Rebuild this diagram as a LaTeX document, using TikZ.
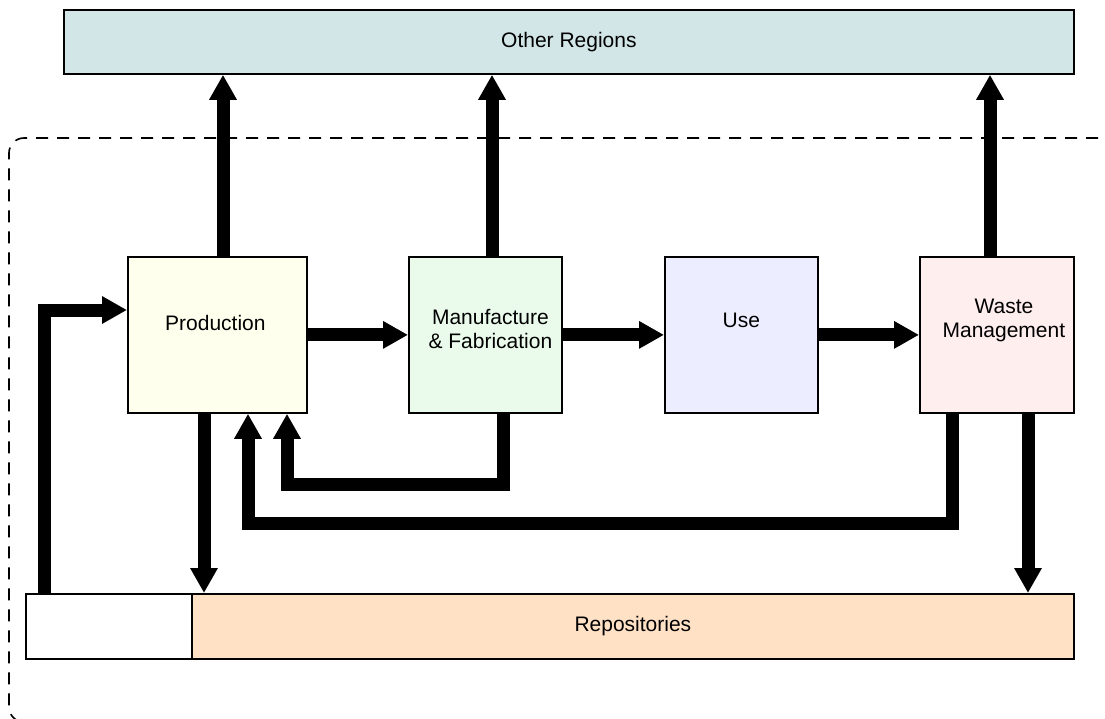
\documentclass[tikz,border=0pt]{standalone}
\usepackage{fontspec}
\setmainfont{Liberation Sans}
\usetikzlibrary{arrows.meta,calc}
\definecolor{cOther}{HTML}{D2E6E8}
\definecolor{cProd}{HTML}{FFFFEE}
\definecolor{cManu}{HTML}{EAFBEC}
\definecolor{cUse}{HTML}{ECEEFF}
\definecolor{cWaste}{HTML}{FFEEEE}
\definecolor{cRepo}{HTML}{FFE1C6}
\begin{document}
\begin{tikzpicture}[x=1pt,y=-1pt,
  font=\fontsize{21}{24}\selectfont,
  box/.style={draw,line width=1.8pt,inner sep=0pt,anchor=north west},
  stage/.style={box,minimum height=156pt},
  flow/.style={line width=13pt,line join=miter,-{Triangle[width=26pt,length=25pt]}},
  frame/.style={line width=1.6pt,dash pattern=on 12pt off 9pt,rounded corners=15pt}
]
\useasboundingbox (0,0) rectangle (1105,719);
% dashed system boundary
\draw[frame] (1098,138) -- (9,138) -- (9,722) -- (80,722);
% boxes
\node[box,fill=cOther,minimum width=1010pt,minimum height=64pt] (other) at (63,9) {Other Regions};
\node[stage,fill=cProd,minimum width=179pt,label={[xshift=-2pt,yshift=12pt]center:Production}] (prod) at (127,256) {};
\node[stage,fill=cManu,minimum width=153pt,label={[align=center,xshift=5pt,yshift=6pt]center:{Manufacture\\\& Fabrication}}] (manu) at (408,256) {};
\node[stage,fill=cUse,minimum width=153pt,label={[yshift=15pt]center:Use}] (use) at (664,256) {};
\node[stage,fill=cWaste,minimum width=154pt,label={[align=center,xshift=7pt,yshift=14pt]center:{Waste\\Management}}] (waste) at (919,256) {};
\node[box,fill=white,minimum width=166pt,minimum height=65pt] (repoL) at (25,593) {};
\node[box,fill=cRepo,minimum width=882pt,minimum height=65pt] (repo) at (191,593) {Repositories};
% coordinates
\coordinate (pu) at ($(prod.north west)+(96,0)$);
\coordinate (mu) at ($(manu.north west)+(84,0)$);
\coordinate (wu) at ($(waste.north west)+(71,0)$);
\coordinate (f0) at ($(repoL.north west)+(19,0)$);
\coordinate (f1) at ($(prod.north west)+(0,54)$);
\coordinate (pd) at ($(prod.south west)+(77,0)$);
\coordinate (m0) at ($(manu.south west)+(95,0)$);
\coordinate (r2) at ($(prod.south west)+(160,0)$);
\coordinate (r1) at ($(r2)+(0,71)$);
\coordinate (w0) at ($(waste.south west)+(33,0)$);
\coordinate (r4) at ($(prod.south west)+(121,0)$);
\coordinate (r3) at ($(r4)+(0,110)$);
\coordinate (w1) at ($(waste.south west)+(109,0)$);
% flows
\draw[flow] (pu) -- (pu |- other.south);
\draw[flow] (mu) -- (mu |- other.south);
\draw[flow] (wu) -- (wu |- other.south);
\draw[flow] (prod.east) -- (manu.west);
\draw[flow] (manu.east) -- (use.west);
\draw[flow] (use.east) -- (waste.west);
\draw[flow] (f0) |- (f1);
\draw[flow] (pd) -- (pd |- repo.north);
\draw[flow] (m0) |- (r1) -- (r2);
\draw[flow] (w0) |- (r3) -- (r4);
\draw[flow] (w1) -- (w1 |- repo.north);
\end{tikzpicture}
\end{document}
